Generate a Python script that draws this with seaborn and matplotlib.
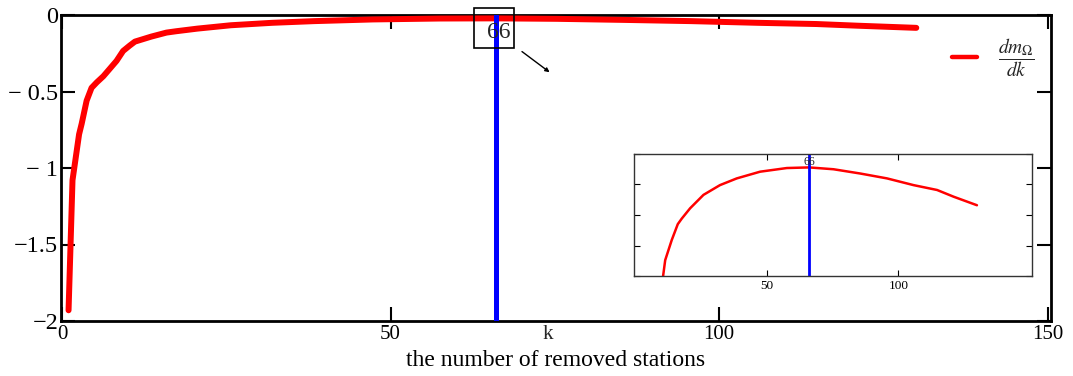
import numpy as np
import pandas as pd
import seaborn as sns
import matplotlib
matplotlib.use("Agg")
import matplotlib.pyplot as plt
from matplotlib.lines import Line2D
from matplotlib.patches import Rectangle

# ---- data ----
removed_k = [1, 1.6, 2.6, 3.0, 3.75, 4.5, 5.3, 6.3, 7.3, 8.3, 9.3, 10.3, 11.1, 13.6, 15.9,
             17.4, 20.6, 25.7, 32, 38.4, 47.3, 57.5, 66, 75.3, 85.5, 95.7, 105.8, 114.8,
             121.1, 130]
dm_dk = [-1.93, -1.08, -0.78, -0.71, -0.56, -0.476, -0.44, -0.40, -0.35, -0.30, -0.235,
         -0.20, -0.174, -0.141, -0.115, -0.106, -0.089, -0.067, -0.051, -0.040, -0.029,
         -0.023, -0.022, -0.025, -0.032, -0.040, -0.051, -0.059, -0.070, -0.084]
k_star = 66
x_ticks = [0, 50, 100, 150]
y_ticks = [-2, -1.5, -1, -0.5, 0]
y_ticklabels = ["\u22122", "\u22121.5", "\u2212 1", "\u2212 0.5", "0"]
inset_x_ticks = [50, 100]
inset_y_ticks = [-0.2, -0.15, -0.1, -0.05, 0]

df = pd.DataFrame({"k": removed_k, "dm": dm_dk})

sns.set_theme(style="ticks")
plt.rcParams["font.family"] = ["Liberation Serif", "DejaVu Serif"]
plt.rcParams["mathtext.fontset"] = "stix"

fig = plt.figure(figsize=(10.73, 3.76), dpi=100)
ax = fig.add_axes([61 / 1073, 1 - 321 / 376, (1051 - 61) / 1073, (321 - 15) / 376])

sns.lineplot(data=df, x="k", y="dm", ax=ax, color="#ff0000", linewidth=4.3,
             legend=False, zorder=3)
ax.axvline(k_star, color="#0000ff", lw=3.6, solid_capstyle="round", zorder=4)

ax.set_xlim(-0.15, 150.5)
ax.set_ylim(-2, 0)
ax.set_xticks(x_ticks)
ax.set_xticklabels([str(t) for t in x_ticks])
ax.set_yticks(y_ticks)
ax.set_yticklabels(y_ticklabels)
ax.tick_params(direction="in", length=10, width=1.5, top=True, right=True,
               labelsize=15, pad=3, colors="black")
ax.tick_params(axis="y", labelsize=17.5, pad=2)
for s in ax.spines.values():
    s.set_linewidth(2)
    s.set_color("black")
ax.set_xlabel("the number of removed stations", fontsize=17, labelpad=4, color="black")
ax.set_ylabel("")
ax.annotate("k", xy=(74, 0), xycoords=("data", "axes fraction"), xytext=(0, -3),
            textcoords="offset points", ha="center", va="top", fontsize=15)

# boxed label of the optimum
ax.add_patch(Rectangle((62.7, -0.213), 6.1, 0.261, fill=False, ec="black", lw=1.2,
                       clip_on=False, zorder=5))
ax.text(66.4, -0.115, "66", ha="center", va="center", fontsize=17, zorder=6)
ax.annotate("", xy=(74.2, -0.374), xytext=(70, -0.239),
            arrowprops=dict(arrowstyle="-|>", color="black", lw=1.0,
                            mutation_scale=6, shrinkA=0, shrinkB=0))

# legend
handle = Line2D([], [], color="#ff0000", lw=3.2)
ax.legend([handle], [r"$\dfrac{dm_{\Omega}}{dk}$"], loc="center left",
          bbox_to_anchor=(0.900, 0.862), frameon=False, fontsize=14,
          handlelength=1.3, handletextpad=1.05, borderpad=0, borderaxespad=0)

# inset
axin = fig.add_axes([634 / 1073, 1 - 276 / 376, (1032 - 634) / 1073, (276 - 154) / 376])
sns.lineplot(data=df, x="k", y="dm", ax=axin, color="#ff0000", linewidth=1.8,
             legend=False)
axin.axvline(k_star, color="#0000ff", lw=2.0)
axin.set_xlim(-0.8, 151)
axin.set_ylim(-0.2, 0)
axin.set_xticks(inset_x_ticks)
axin.set_xticklabels([str(t) for t in inset_x_ticks])
axin.set_yticks(inset_y_ticks)
axin.set_yticklabels([])
axin.set_xlabel("")
axin.set_ylabel("")
axin.tick_params(direction="in", length=4, width=0.8, top=True, right=True,
                 labelsize=9.5, pad=3, colors="black")
for s in axin.spines.values():
    s.set_linewidth(1.0)
    s.set_color("#333333")
axin.text(k_star, -0.004, "66", ha="center", va="top", fontsize=8.5)

fig.savefig("out.png", dpi=100)
